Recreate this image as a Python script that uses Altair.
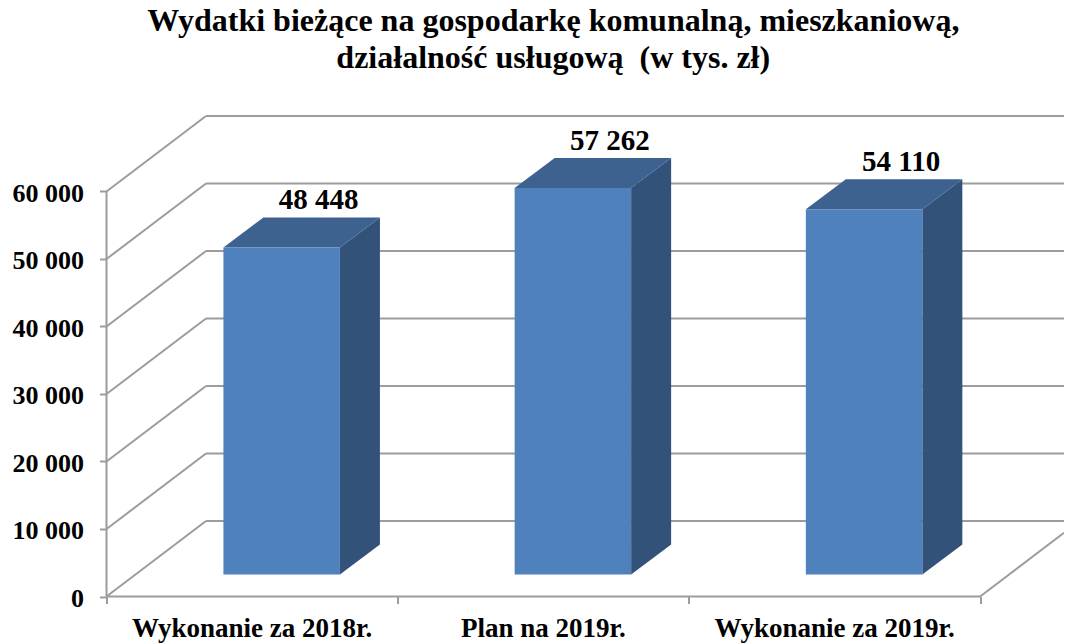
import altair as alt
import pandas as pd

categories = ["Wykonanie za 2018r.", "Plan na 2019r.", "Wykonanie za 2019r."]
values = [48448, 57262, 54110]
grid_values = [0, 10000, 20000, 30000, 40000, 50000, 60000]
x_ticks = [0, 1, 2, 3]
title_lines = ["Wydatki bieżące na gospodarkę komunalną, mieszkaniową,",
               "działalność usługową \u00a0(w tys. zł)"]

FONT = "Liberation Serif"
GRID = "#9c9c9c"
X_MAX = 3.288
# projection of the 3D depth axis onto the plane (x in slots, y in value units)
WALL_DX, WALL_DY = 0.3417, 11185
BAR_DX0, BAR_DY0 = 0.1015, 3259
BAR_DX, BAR_DY = 0.1374, 4444
GAP, BAR_W = 0.3, 0.4
Y_MAX = 60000 + WALL_DY

xs = alt.Scale(domain=[0, X_MAX], nice=False, zero=False)
ys = alt.Scale(domain=[0, Y_MAX], nice=False, zero=False)
x_axis = alt.Axis(values=x_ticks, title=None, domain=False, grid=False, labels=False,
                  tickSize=7, tickWidth=2, tickColor=GRID)
y_axis = alt.Axis(values=grid_values, title=None, domain=False, grid=False,
                  tickSize=7, tickWidth=2, tickColor=GRID,
                  labelFont=FONT, labelFontSize=26, labelFontWeight="bold", labelColor="black",
                  labelPadding=16, labelOffset=2,
                  labelExpr="replace(format(datum.value, ','), ',', ' ')")
X = lambda: alt.X("x:Q", scale=xs, axis=x_axis)
Y = lambda: alt.Y("y:Q", scale=ys, axis=y_axis)

front, side, top, labels = [], [], [], []
for i, (c, v) in enumerate(zip(categories, values)):
    x0 = i + GAP + BAR_DX0
    x1 = x0 + BAR_W
    b = BAR_DY0
    t = b + v
    front.append(dict(cat=c, x=x0, x2=x1, y=b, y2=t))
    side += [dict(cat=c, x=x1, y=b, y2=t),
             dict(cat=c, x=x1 + BAR_DX, y=b + BAR_DY, y2=t + BAR_DY)]
    top += [dict(cat=c, x=x0, y=t, y2=t),
            dict(cat=c, x=x0 + BAR_DX, y=t, y2=t + BAR_DY),
            dict(cat=c, x=x1, y=t, y2=t + BAR_DY),
            dict(cat=c, x=x1 + BAR_DX, y=t + BAR_DY, y2=t + BAR_DY)]
    labels.append(dict(x=(x0 + x1) / 2 + BAR_DX, y=t + BAR_DY,
                       t=f"{v:,}".replace(",", " ")))

back = pd.DataFrame([dict(x=WALL_DX, x2=X_MAX, y=g + WALL_DY) for g in grid_values])
diag = pd.DataFrame([dict(x=0, x2=WALL_DX, y=g, y2=g + WALL_DY) for g in grid_values]
                    + [dict(x=3, x2=X_MAX, y=0, y2=(X_MAX - 3) / WALL_DX * WALL_DY)])
cats = pd.DataFrame(dict(x=[i + 0.5 for i in range(3)], y=[0] * 3, t=categories))

rule = dict(color=GRID, strokeWidth=2)

back_l = alt.Chart(back).mark_rule(**rule).encode(x=X(), x2="x2:Q", y=Y())
diag_l = alt.Chart(diag).mark_rule(**rule).encode(x=X(), x2="x2:Q", y=Y(), y2="y2:Q")
left_l = alt.Chart(pd.DataFrame(dict(x=[0], y=[0], y2=[60000]))).mark_rule(**rule).encode(
    x=X(), y=Y(), y2="y2:Q")
floor_l = alt.Chart(pd.DataFrame(dict(x=[0], x2=[3], y=[0]))).mark_rule(**rule).encode(
    x=X(), x2="x2:Q", y=Y())

front_l = alt.Chart(pd.DataFrame(front)).mark_rect(color="#4f81bd").encode(
    x=X(), x2="x2:Q", y=Y(), y2="y2:Q")
side_l = alt.Chart(pd.DataFrame(side)).mark_area(color="#32527a").encode(
    x=X(), y=Y(), y2="y2:Q", detail="cat:N")
top_l = alt.Chart(pd.DataFrame(top)).mark_area(color="#3d628f").encode(
    x=X(), y=Y(), y2="y2:Q", detail="cat:N")

val_l = alt.Chart(pd.DataFrame(labels)).mark_text(
    font=FONT, fontSize=29, fontWeight="bold", color="black", baseline="alphabetic", dy=-8, dx=-3
).encode(x=X(), y=Y(), text="t:N")
cat_l = alt.Chart(cats).mark_text(
    font=FONT, fontSize=27, fontWeight="bold", color="black", baseline="alphabetic", dy=40
).encode(x=X(), y=Y(), text="t:N")

chart = alt.layer(
    back_l, diag_l, left_l, floor_l, side_l, top_l, front_l, val_l, cat_l
).properties(
    width=957.5, height=480.5,
    background="white",
    title=alt.Title(text=title_lines, font=FONT, fontSize=32, fontWeight="bold", color="black",
                    anchor="middle", dx=-32, offset=40, lineHeight=37),
    autosize=alt.AutoSizeParams(type="none"),
    padding=dict(left=98.5, top=108, right=0, bottom=46.5),
).configure_view(stroke=None)

chart.save("out.html", embed_options={"renderer": "svg", "actions": False})
